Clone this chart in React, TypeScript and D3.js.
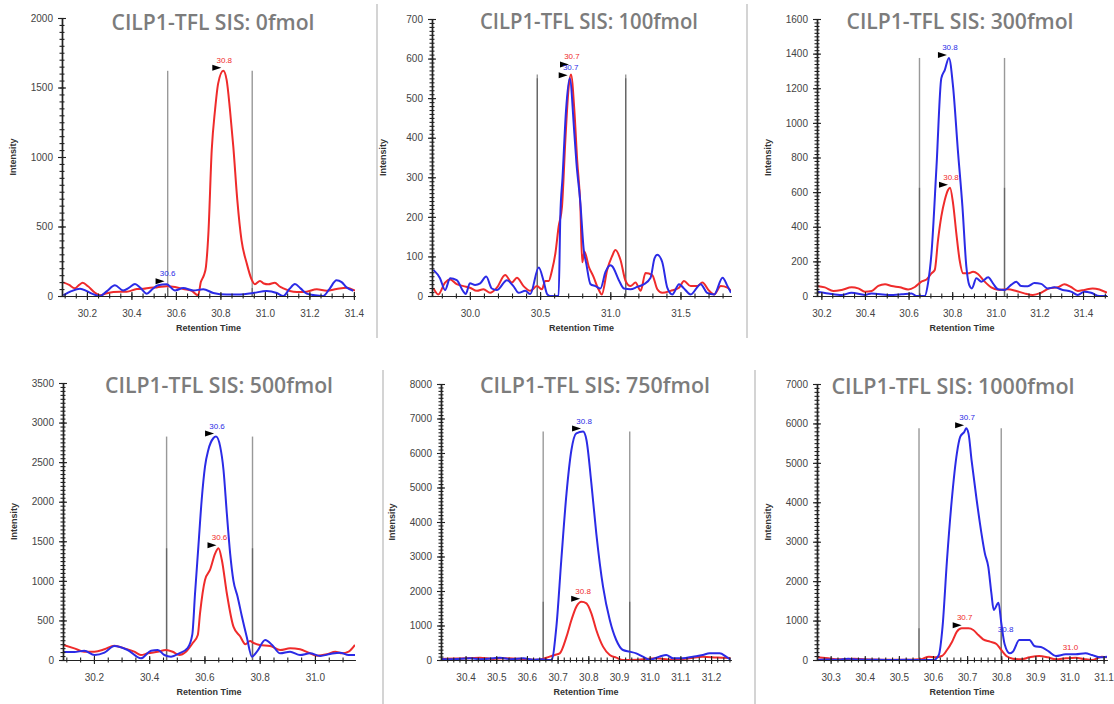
import React, { useEffect, useRef } from "react";
import * as d3 from "d3";

type Pt = [number, number];

const W = 1114;
const H = 704;

const titles = [
  "CILP1-TFL SIS: 0fmol",
  "CILP1-TFL SIS: 100fmol",
  "CILP1-TFL SIS: 300fmol",
  "CILP1-TFL SIS: 500fmol",
  "CILP1-TFL SIS: 750fmol",
  "CILP1-TFL SIS: 1000fmol"
];

// retention time windows and intensity ranges
const xDomains: Pt[] = [
  [30.088, 31.405],
  [29.73, 31.86],
  [30.18, 31.51],
  [30.088, 31.145],
  [30.32, 31.265],
  [30.26, 31.11]
];
const yMaxes = [2000, 700, 1600, 3500, 8000, 7000];
const ySteps = [500, 100, 200, 500, 1000, 1000];
const xTickStarts = [30.2, 30.0, 30.2, 30.2, 30.4, 30.3];
const xTickEnds = [31.4, 31.5, 31.4, 31.0, 31.2, 31.1];
const xSteps = [0.2, 0.5, 0.2, 0.2, 0.1, 0.1];
const xMinorPer = [4, 5, 4, 4, 5, 5];

// integration boundaries (min)
const bounds: Pt[] = [
  [30.563, 30.943],
  [30.48, 31.11],
  [30.65, 31.04],
  [30.463, 30.774],
  [30.653, 30.935],
  [30.559, 30.80]
];

// ---- 0 fmol ----
const p1Red: Pt[] = [
  [30.094, 98], [30.12, 80], [30.146, 55], [30.165, 80], [30.181, 95], [30.205, 70],
  [30.235, 25], [30.259, 5], [30.29, 20], [30.319, 28], [30.35, 30], [30.379, 30],
  [30.424, 50], [30.454, 52], [30.484, 60], [30.514, 62], [30.558, 70], [30.596, 65],
  [30.633, 50], [30.671, 38], [30.688, 15], [30.7, 5], [30.712, 100], [30.726, 150],
  [30.735, 210], [30.746, 450], [30.761, 1050], [30.776, 1340], [30.79, 1530],
  [30.813, 1620], [30.828, 1555], [30.843, 1340], [30.858, 1075], [30.876, 690],
  [30.895, 400], [30.918, 237], [30.94, 120], [30.955, 85], [30.978, 108], [30.995, 90],
  [31.015, 84], [31.045, 96], [31.065, 70], [31.083, 55], [31.128, 31], [31.16, 28],
  [31.188, 31], [31.233, 48], [31.278, 38], [31.322, 50], [31.367, 60], [31.405, 38]
];
const p1Blue: Pt[] = [
  [30.094, 5], [30.13, 35], [30.169, 53], [30.2, 35], [30.222, 17], [30.259, 0],
  [30.29, 35], [30.326, 77], [30.363, 40], [30.39, 60], [30.416, 86], [30.44, 60],
  [30.469, 17], [30.495, 50], [30.52, 77], [30.558, 84], [30.596, 40], [30.633, 57],
  [30.678, 40], [30.723, 48], [30.768, 22], [30.828, 10], [30.888, 10], [30.948, 22],
  [31.008, 36], [31.053, 22], [31.083, 0], [31.11, 50], [31.135, 86], [31.16, 55],
  [31.188, 17], [31.225, 5], [31.262, 0], [31.29, 50], [31.322, 113], [31.345, 100],
  [31.367, 62], [31.397, 38]
];

// ---- 100 fmol ----
const p2Red: Pt[] = [
  [29.74, 20], [29.775, 4], [29.823, 34], [29.859, 42], [29.906, 30], [29.954, 25],
  [30.0, 21], [30.05, 13], [30.097, 17], [30.144, 8], [30.192, 21], [30.251, 53],
  [30.299, 34], [30.335, 46], [30.382, 25], [30.43, 13], [30.478, 25], [30.513, 17],
  [30.537, 38], [30.561, 38], [30.585, 65], [30.609, 108], [30.632, 175], [30.656, 226],
  [30.68, 394], [30.704, 529], [30.72, 560], [30.744, 470], [30.764, 344], [30.787, 226],
  [30.8, 85], [30.816, 112], [30.847, 74], [30.88, 49], [30.916, 17], [30.94, 4],
  [30.978, 66], [31.012, 100], [31.037, 116], [31.073, 91], [31.109, 38], [31.144, 25],
  [31.18, 34], [31.216, 13], [31.251, 58], [31.299, 53], [31.335, 17], [31.37, 8],
  [31.43, 13], [31.49, 21], [31.525, 38], [31.573, 25], [31.62, 25], [31.656, 34],
  [31.704, 13], [31.74, 4], [31.787, 25], [31.835, 21], [31.86, 13]
];
const p2Blue: Pt[] = [
  [29.74, 66], [29.787, 45], [29.823, 15], [29.859, 45], [29.906, 40], [29.954, 11],
  [29.97, 5], [30.0, 32], [30.037, 28], [30.073, 32], [30.116, 49], [30.156, 19],
  [30.192, 15], [30.264, 40], [30.31, 25], [30.347, 8], [30.394, 13], [30.43, 5],
  [30.49, 72], [30.525, 38], [30.55, 5], [30.573, 0], [30.61, 0], [30.632, 0],
  [30.644, 200], [30.66, 300], [30.685, 470], [30.711, 550], [30.744, 411], [30.759, 336],
  [30.787, 235], [30.81, 120], [30.83, 80], [30.859, 30], [30.894, 25], [30.93, 19],
  [30.966, 61], [31.0, 78], [31.014, 75], [31.061, 40], [31.097, 19], [31.144, 17],
  [31.192, 23], [31.24, 30], [31.287, 46], [31.315, 95], [31.335, 104], [31.37, 86],
  [31.406, 21], [31.442, 4], [31.49, 30], [31.52, 21], [31.573, 4], [31.644, 30],
  [31.69, 8], [31.74, 4], [31.8, 46], [31.835, 25], [31.86, 8]
];

// ---- 300 fmol ----
const p3Red: Pt[] = [
  [30.18, 58], [30.216, 50], [30.255, 29], [30.293, 35], [30.339, 50], [30.369, 44],
  [30.4, 25], [30.431, 29], [30.461, 58], [30.492, 68], [30.522, 58], [30.56, 50],
  [30.598, 38], [30.629, 52], [30.659, 83], [30.682, 95], [30.705, 131], [30.72, 150],
  [30.735, 323], [30.75, 458], [30.766, 554], [30.781, 612], [30.79, 625], [30.804, 535],
  [30.819, 362], [30.834, 208], [30.85, 131], [30.873, 131], [30.896, 140], [30.918, 127],
  [30.949, 83], [30.979, 50], [31.017, 35], [31.055, 39], [31.094, 29], [31.131, 15],
  [31.17, 6], [31.208, 19], [31.246, 44], [31.284, 50], [31.315, 68], [31.345, 52],
  [31.376, 29], [31.406, 35], [31.444, 44], [31.475, 38], [31.51, 19]
];
const p3Blue: Pt[] = [
  [30.18, 25], [30.232, 15], [30.293, 6], [30.338, 19], [30.4, 6], [30.43, 15],
  [30.51, 6], [30.568, 10], [30.614, 15], [30.636, 0], [30.674, 0], [30.689, 73],
  [30.705, 247], [30.728, 747], [30.75, 1257], [30.766, 1305], [30.785, 1375],
  [30.804, 1209], [30.826, 843], [30.847, 516], [30.865, 169], [30.878, 64], [30.89, 44],
  [30.911, 102], [30.934, 83], [30.965, 108], [30.987, 73], [31.01, 39], [31.04, 35],
  [31.07, 64], [31.094, 83], [31.116, 58], [31.147, 57], [31.177, 75], [31.208, 70],
  [31.238, 44], [31.269, 50], [31.307, 35], [31.345, 25], [31.376, 6], [31.406, 25],
  [31.437, 19], [31.475, 0], [31.51, 0]
];

// ---- 500 fmol ----
const p4Red: Pt[] = [
  [30.09, 190], [30.129, 147], [30.165, 105], [30.202, 105], [30.238, 135], [30.274, 181],
  [30.31, 147], [30.346, 105], [30.37, 63], [30.395, 84], [30.431, 105], [30.461, 126],
  [30.485, 105], [30.509, 63], [30.533, 105], [30.557, 211], [30.576, 316], [30.584, 590],
  [30.602, 1011], [30.62, 1138], [30.639, 1348], [30.651, 1412], [30.663, 1264],
  [30.681, 843], [30.705, 421], [30.729, 300], [30.748, 200], [30.765, 240], [30.778, 215],
  [30.8, 190], [30.838, 177], [30.874, 126], [30.91, 147], [30.946, 135], [30.977, 93],
  [31.007, 55], [31.043, 72], [31.074, 105], [31.098, 84], [31.122, 105], [31.145, 190]
];
const p4Blue: Pt[] = [
  [30.09, 100], [30.129, 100], [30.165, 118], [30.202, 63], [30.238, 93], [30.274, 177],
  [30.322, 126], [30.37, 21], [30.407, 118], [30.431, 126], [30.455, 63], [30.479, 42],
  [30.509, 84], [30.539, 150], [30.556, 320], [30.566, 843], [30.578, 1432], [30.59, 2022],
  [30.602, 2443], [30.614, 2654], [30.632, 2802], [30.642, 2823], [30.657, 2696],
  [30.669, 2401], [30.681, 1854], [30.693, 1348], [30.705, 1000], [30.72, 800], [30.735, 560],
  [30.753, 295], [30.772, 42], [30.79, 105], [30.82, 253], [30.845, 190], [30.874, 84],
  [30.91, 105], [30.946, 63], [30.982, 84], [31.019, 51], [31.055, 76], [31.091, 93],
  [31.122, 63], [31.145, 63]
];

// ---- 750 fmol ----
const p5Red: Pt[] = [
  [30.32, 30], [30.37, 40], [30.447, 68], [30.49, 30], [30.53, 50], [30.6, 20],
  [30.64, 10], [30.674, 97], [30.691, 145], [30.707, 193], [30.729, 676], [30.745, 1160],
  [30.761, 1546], [30.778, 1691], [30.794, 1643], [30.81, 1353], [30.826, 870],
  [30.848, 387], [30.87, 145], [30.891, 68], [30.913, 0], [30.96, 10], [31.021, 48],
  [31.07, 10], [31.13, 48], [31.173, 97], [31.22, 70], [31.263, 60]
];
const p5Blue: Pt[] = [
  [30.32, 30], [30.36, 20], [30.414, 48], [30.45, 20], [30.512, 68], [30.55, 20],
  [30.588, 48], [30.62, 10], [30.65, 20], [30.668, 0], [30.68, 0], [30.696, 966],
  [30.712, 2899], [30.729, 4832], [30.745, 6088], [30.761, 6571], [30.783, 6620],
  [30.794, 6378], [30.81, 5122], [30.826, 3673], [30.848, 2126], [30.87, 1160],
  [30.891, 580], [30.913, 290], [30.935, 242], [30.956, 193], [30.978, 97], [31.0, 10],
  [31.032, 97], [31.054, 145], [31.076, 48], [31.108, 48], [31.141, 97], [31.173, 145],
  [31.195, 193], [31.228, 193], [31.249, 97], [31.263, 10]
];

// ---- 1000 fmol ----
const p6Red: Pt[] = [
  [30.26, 68], [30.293, 42], [30.322, 17], [30.37, 34], [30.42, 10], [30.48, 5],
  [30.53, 5], [30.564, 17], [30.588, 85], [30.607, 68], [30.626, 101], [30.641, 254],
  [30.656, 465], [30.67, 718], [30.684, 803], [30.704, 803], [30.718, 761], [30.733, 634],
  [30.747, 524], [30.767, 465], [30.786, 406], [30.8, 254], [30.815, 101], [30.834, 34],
  [30.858, 17], [30.883, 68], [30.911, 101], [30.936, 68], [30.96, 17], [30.989, 42],
  [31.018, 59], [31.042, 25], [31.066, 0], [31.095, 85], [31.11, 70]
];
const p6Blue: Pt[] = [
  [30.26, 0], [30.293, 10], [30.322, 5], [30.351, 34], [30.38, 10], [30.42, 5],
  [30.47, 0], [30.52, 5], [30.56, 0], [30.602, 0], [30.617, 127], [30.628, 845],
  [30.641, 2536], [30.655, 4058], [30.67, 5242], [30.68, 5663], [30.692, 5790],
  [30.697, 5876], [30.704, 5748], [30.713, 5072], [30.728, 4058], [30.742, 3213],
  [30.752, 2705], [30.762, 2367], [30.771, 1700], [30.778, 1270], [30.792, 1450],
  [30.8, 950], [30.81, 400], [30.825, 170], [30.834, 211], [30.853, 507], [30.883, 507],
  [30.897, 355], [30.921, 313], [30.94, 211], [30.96, 101], [30.989, 144], [31.018, 144],
  [31.047, 169], [31.066, 127], [31.09, 68], [31.11, 85]
];

// peak annotations: series, time, intensity, label, with marker arrow
type Peak = { s: "red" | "blue"; t: number; i: number; text: string; marker: boolean };
const p1Peaks: Peak[] = [
  { s: "red", t: 30.813, i: 1620, text: "30.8", marker: true },
  { s: "blue", t: 30.558, i: 84, text: "30.6", marker: true }
];
const p2Peaks: Peak[] = [
  { s: "red", t: 30.72, i: 560, text: "30.7", marker: true },
  { s: "blue", t: 30.711, i: 550, text: "30.7", marker: true }
];
const p3Peaks: Peak[] = [
  { s: "blue", t: 30.785, i: 1375, text: "30.8", marker: true },
  { s: "red", t: 30.79, i: 625, text: "30.8", marker: true }
];
const p4Peaks: Peak[] = [
  { s: "blue", t: 30.642, i: 2823, text: "30.6", marker: true },
  { s: "red", t: 30.651, i: 1412, text: "30.6", marker: true }
];
const p5Peaks: Peak[] = [
  { s: "blue", t: 30.783, i: 6620, text: "30.8", marker: true },
  { s: "red", t: 30.78, i: 1691, text: "30.8", marker: true }
];
const p6Peaks: Peak[] = [
  { s: "blue", t: 30.697, i: 5876, text: "30.7", marker: true },
  { s: "red", t: 30.69, i: 803, text: "30.7", marker: true },
  { s: "blue", t: 30.81, i: 500, text: "30.8", marker: false },
  { s: "red", t: 31.0, i: 59, text: "31.0", marker: false }
];

const reds = [p1Red, p2Red, p3Red, p4Red, p5Red, p6Red];
const blues = [p1Blue, p2Blue, p3Blue, p4Blue, p5Blue, p6Blue];
const peaks = [p1Peaks, p2Peaks, p3Peaks, p4Peaks, p5Peaks, p6Peaks];

// layout of each panel on the page
const boxes = [
  { left: 62, right: 355, top: 18, bottom: 296, titleX: 213, titleW: 203, titleY: 30, lift: [0, 0] },
  { left: 432, right: 731, top: 19, bottom: 296, titleX: 589, titleW: 218, titleY: 29, lift: [7, 0] },
  { left: 817, right: 1107, top: 19, bottom: 296, titleX: 960, titleW: 227, titleY: 29, lift: [0, 0] },
  { left: 63, right: 355, top: 383, bottom: 660, titleX: 219, titleW: 228, titleY: 393, lift: [0, 0] },
  { left: 441, right: 731, top: 384, bottom: 660, titleX: 595, titleW: 230, titleY: 393, lift: [0, 0] },
  { left: 817, right: 1107, top: 384, bottom: 660, titleX: 953, titleW: 243, titleY: 394, lift: [0, 0, 0, 0] }
];
const separators = [
  { x: 377, y1: 4, y2: 338 },
  { x: 747, y1: 4, y2: 338 },
  { x: 383, y1: 370, y2: 704 },
  { x: 755, y1: 370, y2: 704 }
];

const RED = "#ef2b2b";
const BLUE = "#2b2be6";
const AXIS_FONT = "'Liberation Sans', Arial, sans-serif";

const rangeStep = (a: number, b: number, s: number) => {
  const n = Math.round((b - a) / s);
  return d3.range(n + 1).map(k => +(a + k * s).toFixed(4));
};

function drawPanel(svg: d3.Selection<SVGSVGElement, unknown, null, undefined>, k: number) {
  const L = boxes[k];
  const x = d3.scaleLinear().domain(xDomains[k]).range([L.left, L.right]);
  const y = d3.scaleLinear().domain([0, yMaxes[k]]).range([L.bottom, L.top]);
  const g = svg.append("g");

  // title
  g.append("text")
    .attr("x", L.titleX)
    .attr("y", L.titleY)
    .attr("text-anchor", "middle")
    .attr("textLength", L.titleW)
    .attr("lengthAdjust", "spacingAndGlyphs")
    .style("font-family", "'Open Sans', sans-serif")
    .style("font-weight", 600)
    .style("font-size", "21px")
    .style("fill", "#7c7c7c")
    .text(titles[k]);

  // integration boundaries, one pair per trace
  [reds[k], blues[k]].forEach(series => {
    const inside = series.filter(d => d[0] >= bounds[k][0] && d[0] <= bounds[k][1]);
    const top = d3.max(inside, d => d[1]) || 0;
    bounds[k].forEach(b => {
      g.append("line")
        .attr("x1", x(b))
        .attr("x2", x(b))
        .attr("y1", y(0))
        .attr("y2", y(top))
        .attr("stroke", "#333")
        .attr("stroke-opacity", 0.5)
        .attr("stroke-width", 1.4);
    });
  });

  // clip
  const clipId = "clip" + k;
  svg
    .append("clipPath")
    .attr("id", clipId)
    .append("rect")
    .attr("x", L.left)
    .attr("y", L.top - 20)
    .attr("width", L.right - L.left)
    .attr("height", L.bottom - L.top + 20);

  const line = d3
    .line<Pt>()
    .x(d => x(d[0]))
    .y(d => y(d[1]))
    .curve(d3.curveMonotoneX);

  g.append("path")
    .attr("d", line(reds[k]))
    .attr("clip-path", `url(#${clipId})`)
    .attr("fill", "none")
    .attr("stroke", RED)
    .attr("stroke-width", 2);
  g.append("path")
    .attr("d", line(blues[k]))
    .attr("clip-path", `url(#${clipId})`)
    .attr("fill", "none")
    .attr("stroke", BLUE)
    .attr("stroke-width", 2);

  // axes
  const yMajor = d3.range(0, yMaxes[k] + 1, ySteps[k]);
  const yMinor = d3.range(0, yMaxes[k] + 1, ySteps[k] / 10);
  const xMajor = rangeStep(xTickStarts[k], xTickEnds[k], xSteps[k]);
  const ms = xSteps[k] / xMinorPer[k];
  const xMinor = rangeStep(
    xTickStarts[k] - Math.floor((xTickStarts[k] - xDomains[k][0]) / ms) * ms,
    xDomains[k][1],
    ms
  ).filter(v => v <= xDomains[k][1]);

  const yAxisG = g.append("g").attr("transform", `translate(${L.left},0)`);
  yAxisG.append("g").attr("class", "minor").call(d3.axisLeft(y).tickValues(yMinor).tickSize(2.5).tickSizeOuter(0).tickFormat(() => ""));
  yAxisG.append("g").attr("class", "minor").call(d3.axisRight(y).tickValues(yMinor).tickSize(2.5).tickSizeOuter(0).tickFormat(() => ""));
  yAxisG.append("g").call(d3.axisRight(y).tickValues(yMajor).tickSize(4).tickSizeOuter(0).tickFormat(() => ""));
  yAxisG
    .append("g")
    .call(d3.axisLeft(y).tickValues(yMajor).tickSize(4).tickSizeOuter(0).tickPadding(5).tickFormat(d3.format("d")));

  const xAxisG = g.append("g").attr("transform", `translate(0,${L.bottom})`);
  xAxisG.append("g").attr("class", "minor").call(d3.axisBottom(x).tickValues(xMinor).tickSize(2.5).tickSizeOuter(0).tickFormat(() => ""));
  xAxisG.append("g").attr("class", "minor").call(d3.axisTop(x).tickValues(xMinor).tickSize(2.5).tickSizeOuter(0).tickFormat(() => ""));
  xAxisG.append("g").call(d3.axisTop(x).tickValues(xMajor).tickSize(4).tickSizeOuter(0).tickFormat(() => ""));
  xAxisG
    .append("g")
    .call(d3.axisBottom(x).tickValues(xMajor).tickSize(4).tickSizeOuter(0).tickPadding(10).tickFormat(d3.format(".1f")));

  g.selectAll(".domain").attr("stroke", "#222").attr("stroke-width", 1.2);
  g.selectAll(".tick line").attr("stroke", "#222").attr("stroke-width", 1.1);
  g.selectAll(".tick text")
    .style("font-family", AXIS_FONT)
    .style("font-size", "10px")
    .style("fill", "#444");

  // axis titles
  g.append("text")
    .attr("x", (L.left + L.right) / 2)
    .attr("y", L.bottom + 35)
    .attr("text-anchor", "middle")
    .style("font-family", AXIS_FONT)
    .style("font-weight", "bold")
    .style("font-size", "9px")
    .style("fill", "#333")
    .text("Retention Time");
  g.append("text")
    .attr("transform", `translate(${L.left - 46},${(L.top + L.bottom) / 2}) rotate(-90)`)
    .attr("text-anchor", "middle")
    .style("font-family", AXIS_FONT)
    .style("font-weight", "bold")
    .style("font-size", "9px")
    .style("fill", "#333")
    .text("Intensity");

  // peak labels
  peaks[k].forEach((p, j) => {
    const cx = x(p.t);
    const cy = y(p.i) - (L.lift[j] || 0);
    if (p.marker) {
      g.append("path")
        .attr("d", `M${cx - 2},${cy - 3} L${cx - 11},${cy - 6} L${cx - 11},${cy} Z`)
        .attr("fill", "#000");
    }
    g.append("text")
      .attr("x", cx + 1)
      .attr("y", cy - 8)
      .attr("text-anchor", "middle")
      .style("font-family", AXIS_FONT)
      .style("font-size", "8px")
      .style("fill", p.s === "red" ? RED : BLUE)
      .text(p.text);
  });
}

export default function App() {
  const ref = useRef<SVGSVGElement>(null);

  useEffect(() => {
    const svg = d3.select(ref.current!);
    svg.selectAll("*").remove();

    separators.forEach(s => {
      svg
        .append("line")
        .attr("x1", s.x)
        .attr("x2", s.x)
        .attr("y1", s.y1)
        .attr("y2", s.y2)
        .attr("stroke", "#d4d4d4")
        .attr("stroke-width", 2);
    });

    for (let k = 0; k < 6; k++) drawPanel(svg, k);
  }, []);

  return (
    <svg
      ref={ref}
      width={W}
      height={H}
      style={{ position: "absolute", left: 0, top: 0, background: "#fff" }}
    />
  );
}
